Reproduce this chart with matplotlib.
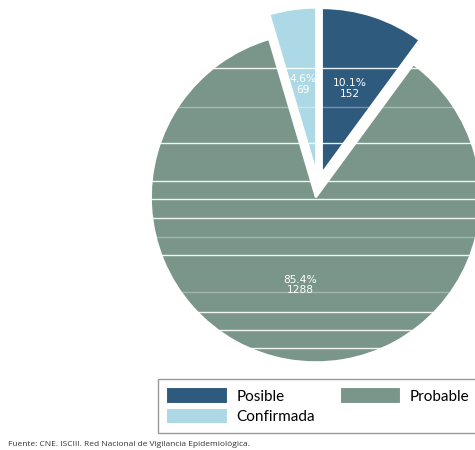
import matplotlib.pyplot as plt

# Data
categories = ["Posible", "Probable", "Confirmada"]
counts = [152, 1288, 69]
colors = ["#2E5A7E", "#7A968A", "#ADD8E6"]
source = "Fuente: CNE. ISCIII. Red Nacional de Vigilancia Epidemiológica."

total = sum(counts)

fig = plt.figure(figsize=(4.75, 4.5), dpi=100)
ax = fig.add_axes([0, 0, 1, 1])


def label(pct):
    return f"{pct:.1f}%\n{round(pct * total / 100)}"


# pie drawn in a pixel-sized data space (explode is in data units)
wedges, texts, autotexts = ax.pie(
    counts, colors=colors, startangle=90, counterclock=False,
    explode=[12.5, 12.5, 12.5], center=(318, 265), radius=165,
    autopct=label, pctdistance=0.54,
    wedgeprops=dict(edgecolor="white", linewidth=1.5),
    textprops=dict(color="white", fontsize=7.7, family="DejaVu Sans"),
)
for t in autotexts:
    t.set_linespacing(1.1)
# small slice label is hidden where it runs past its wedge
autotexts[2].set_clip_path(wedges[2])

ax.set_xlim(0, 475)
ax.set_ylim(0, 450)
ax.set_aspect("equal")
ax.axis("off")

# faint white streaks across the pie (as in the source image)
streaks = [(68, 0.9), (107, 0.35), (143, 0.9), (181, 0.9), (199, 0.9), (218, 0.9),
           (237, 0.3), (255, 0.9), (292, 0.3), (312, 0.9), (330, 0.9), (348, 0.9)]
for yy, a in streaks:
    ax.axhline(450 - yy, color="white", linewidth=1, alpha=a, zorder=2)

# legend: row 1 Posible / Probable, row 2 Confirmada
order = [0, 2, 1]
leg = fig.legend([wedges[i] for i in order], [categories[i] for i in order],
                 loc="upper left", bbox_to_anchor=(158 / 475, 1 - 379 / 450),
                 ncol=2, frameon=True, fancybox=False, edgecolor="#808080",
                 prop=dict(family="Lato", size=11), handlelength=4.0,
                 handleheight=1.25, handletextpad=0.6, columnspacing=1.6,
                 labelspacing=0.3, borderpad=0.55, borderaxespad=0)
leg.get_frame().set_linewidth(1.0)

fig.text(8 / 475, 1 - 444 / 450, source, fontsize=6, family="Open Sans",
         color="#333333", va="center")

fig.savefig("out.png", dpi=100)
